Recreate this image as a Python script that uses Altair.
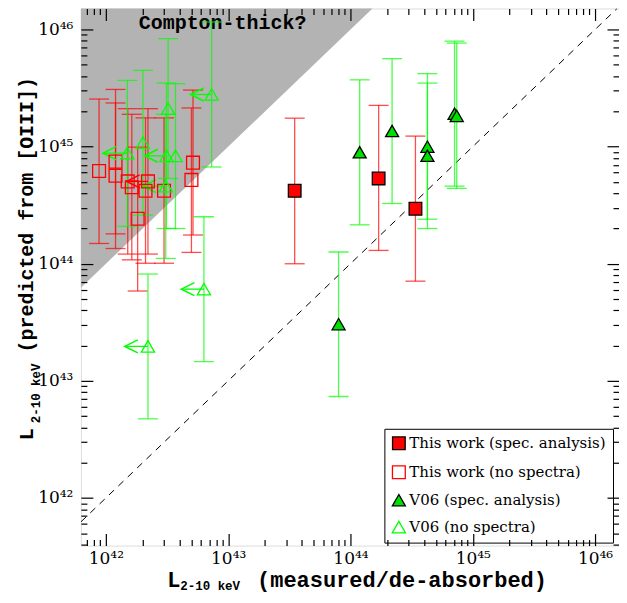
import altair as alt
import pandas as pd

# ---------------- data (erg/s) ----------------
# This work, spectral analysis (filled red squares)
tw_spec_x = [3.5e43, 1.7e44, 3.4e44]
tw_spec_y = [4.2e44, 5.35e44, 2.95e44]
tw_spec_lo = [1.0e44, 1.3e44, 7.1e43]
tw_spec_hi = [1.75e45, 2.25e45, 1.23e45]

# This work, no spectra (open red squares)
tw_nos_x = [8.8e41, 1.2e42, 1.2e42, 1.51e42, 1.63e42, 2.21e42, 2.11e42, 2.99e42, 1.82e42, 5.16e42, 5.01e42]
tw_nos_y = [6.2e44, 7.45e44, 5.65e44, 5.05e44, 4.5e44, 5.05e44, 4.2e44, 4.2e44, 2.42e44, 7.3e44, 5.2e44]
tw_nos_lo = [1.49e44, 1.8e44, 1.35e44, 1.21e44, 1.08e44, 1.21e44, 1.01e44, 1.01e44, 5.85e43, 1.76e44, 1.25e44]
tw_nos_hi = [2.55e45, 3.08e45, 2.36e45, 2.11e45, 1.89e45, 2.11e45, 1.76e45, 1.76e45, 9.9e44, 3.04e45, 2.14e45]
# upper limits in x (arrow tips)
tw_lim_x = [2.21e42]
tw_lim_y = [5.05e44]
tw_lim_tip = [1.48e42]

# V06, spectral analysis (filled green triangles)
v06_spec_x = [1.19e44, 2.19e44, 4.26e44, 4.26e44, 7.1e44, 7.4e44, 8.0e43]
v06_spec_y = [8.95e44, 1.36e45, 1.0e45, 8.35e44, 1.91e45, 1.83e45, 3.05e43]
v06_spec_lo = [2.15e44, 3.27e44, 2.4e44, 2.0e44, 4.6e44, 4.4e44, 7.35e42]
v06_spec_hi = [3.72e45, 5.64e45, 4.2e45, 3.49e45, 7.96e45, 7.66e45, 1.26e44]

# V06, no spectra (open green triangles)
v06_nos_x = [7.33e42, 3.23e42, 2.01e42, 1.50e42, 3.13e42, 3.71e42, 3.09e42, 6.34e42, 2.21e42]
v06_nos_y = [2.79e45, 2.11e45, 1.08e45, 8.8e44, 8.35e44, 8.35e44, 4.6e44, 6.07e43, 1.97e43]
v06_nos_lo = [6.7e44, 5.35e44, 2.6e44, 2.09e44, 2.0e44, 2.0e44, 1.11e44, 1.46e43, 4.74e42]
v06_nos_hi = [1.16e46, 8.36e45, 4.48e45, 3.68e45, 3.49e45, 3.45e45, 1.89e45, 2.52e44, 8.17e43]
# upper limits in x (arrow tips)
v06_lim_x = [7.33e42, 1.50e42, 3.13e42, 3.09e42, 6.34e42, 2.21e42]
v06_lim_y = [2.79e45, 8.8e44, 8.35e44, 4.6e44, 6.07e43, 1.97e43]
v06_lim_tip = [4.94e42, 9.5e41, 2.08e42, 2.01e42, 4.15e42, 1.43e42]

series_names = ["This work (spec. analysis)", "This work (no spectra)",
                "V06 (spec. analysis)", "V06 (no spectra)"]

major_ticks = [1e42, 1e43, 1e44, 1e45, 1e46]
major_labels = ["10⁴²", "10⁴³", "10⁴⁴", "10⁴⁵", "10⁴⁶"]

COMPTON_FACTOR = 100.0
XMIN, XMAX = 6.25e41, 1.57e46
YMIN, YMAX = 3.92e41, 1.513e46
W, H = 539, 538

RED = "#ff0000"
GREEN = "#00ff00"
GREEN_FILL = "#00e000"
SERIF = "DejaVu Serif"
MONO = "Liberation Mono"

# axis titles: "L" + subscript "2-10 keV" + rest
T_L = "L"
T_SUB = "2-10 keV"
XTITLE_MAIN = "(measured/de-absorbed)"
YTITLE_MAIN = "(predicted from [OIII])"

# ---------------- scales & axes ----------------
xs = alt.Scale(type="log", domain=[XMIN, XMAX], nice=False, zero=False)
ys = alt.Scale(type="log", domain=[YMIN, YMAX], nice=False, zero=False)

minor = [k * 10.0 ** n for n in range(41, 47) for k in range(2, 10)]
xticks = [v for v in major_ticks + minor if XMIN <= v <= XMAX]
yticks = [v for v in major_ticks + minor if YMIN <= v <= YMAX]

lab_expr = " : ".join(f"datum.value == {repr(v)} ? '{l}'" for v, l in zip(major_ticks, major_labels)) + " : ''"
major_arr = "[" + ",".join(repr(v) for v in major_ticks) + "]"
tick_size = {"condition": {"test": f"indexof({major_arr}, datum.value) >= 0", "value": 12}, "value": 6}


def tick_axis(orient, offset, values, **title):
    return alt.Axis(orient=orient, offset=offset, values=values, labels=False, domain=False,
                    grid=False, ticks=True, tickSize=tick_size, tickColor="black",
                    tickWidth=1.2, zindex=1, titleFont=MONO, titleFontWeight="bold",
                    titleColor="black", titleAlign="left", titleBaseline="alphabetic",
                    **title)


ax_x_lab = alt.Axis(orient="bottom", values=major_ticks, labelExpr=lab_expr, ticks=False,
                    domain=False, grid=False, labelFont=SERIF, labelFontSize=17,
                    labelPadding=5, labelColor="black", labelFlush=False,
                    title=XTITLE_MAIN, titleFont=MONO, titleFontSize=22, titleFontWeight="bold",
                    titleColor="black", titleX=176, titleY=41, titleBaseline="alphabetic",
                    titleAlign="left")
ax_y_lab = alt.Axis(orient="left", values=major_ticks, labelExpr=lab_expr, ticks=False,
                    domain=False, grid=False, labelFont=SERIF, labelFontSize=17,
                    labelPadding=8, labelColor="black", labelFlush=False,
                    title=YTITLE_MAIN, titleFont=MONO, titleFontSize=20, titleFontWeight="bold",
                    titleColor="black", titleX=-48, titleY=344, titleAngle=270,
                    titleBaseline="alphabetic", titleAlign="left")

# ---------------- layers ----------------
# Compton-thick region: L_pred > 100 L_meas
shade_df = pd.DataFrame({"x": [XMIN, YMAX / COMPTON_FACTOR],
                         "y": [XMIN * COMPTON_FACTOR, YMAX],
                         "y2": [YMAX, YMAX]})
shade = alt.Chart(shade_df).mark_area(color="#b3b3b3", opacity=1).encode(
    x=alt.X("x:Q", scale=xs, axis=ax_x_lab),
    y=alt.Y("y:Q", scale=ys, axis=ax_y_lab),
    y2="y2:Q")

one2one_df = pd.DataFrame({"x": [XMIN, YMAX], "y": [XMIN, YMAX]})
one2one = alt.Chart(one2one_df).mark_line(color="black", strokeDash=[7, 6], strokeWidth=1,
                                          clip=True).encode(
    # top-oriented axis moved to the bottom edge: inward ticks + "L" of the x title
    x=alt.X("x:Q", scale=xs, axis=tick_axis("top", -H, xticks, title=T_L, titleFontSize=22,
                                            titleX=86, titleY=41)),
    # right-oriented axis moved to the left edge: inward ticks + "L" of the y title
    y=alt.Y("y:Q", scale=ys, axis=tick_axis("right", -W, yticks, title=T_L, titleFontSize=20,
                                            titleX=-48, titleY=432, titleAngle=270)))

label_df = pd.DataFrame({"x": [9.0e42], "y": [1.128e46], "t": ["Compton-thick?"]})
label = alt.Chart(label_df).mark_text(font=MONO, fontSize=20, fontWeight="bold",
                                      color="black", align="center", baseline="middle").encode(
    # bottom-oriented axis moved to the top edge: inward ticks + subscript of x title
    x=alt.X("x:Q", scale=xs, axis=tick_axis("bottom", -H, xticks, title=T_SUB,
                                            titleFontSize=12.5, titleX=99, titleY=582)),
    # left-oriented axis moved to the right edge: inward ticks + subscript of y title
    y=alt.Y("y:Q", scale=ys, axis=tick_axis("left", -W, yticks, title=T_SUB,
                                            titleFontSize=12.5, titleX=-41 - W, titleY=415,
                                            titleAngle=270)),
    text="t:N")


def err_layers(x, y, lo, hi, color):
    df = pd.DataFrame({"x": x, "y": y, "lo": lo, "hi": hi})
    base = alt.Chart(df)
    rule = base.mark_rule(color=color, strokeWidth=1.3, opacity=0.7).encode(
        x=alt.X("x:Q", scale=xs, axis=None),
        y=alt.Y("lo:Q", scale=ys, axis=None), y2="hi:Q")
    cap_lo = base.mark_tick(orient="horizontal", color=color, size=20, thickness=1.3,
                            opacity=0.7).encode(
        x=alt.X("x:Q", scale=xs, axis=None), y=alt.Y("lo:Q", scale=ys, axis=None))
    cap_hi = base.mark_tick(orient="horizontal", color=color, size=20, thickness=1.3,
                            opacity=0.7).encode(
        x=alt.X("x:Q", scale=xs, axis=None), y=alt.Y("hi:Q", scale=ys, axis=None))
    return [rule, cap_lo, cap_hi]


ARROW = "M2,-1L0,0L2,1"


def arrow_layers(x, y, tip, color):
    df = pd.DataFrame({"x": x, "y": y, "tip": tip})
    base = alt.Chart(df)
    shaft = base.mark_rule(color=color, strokeWidth=1.3).encode(
        x=alt.X("x:Q", scale=xs, axis=None), x2="tip:Q",
        y=alt.Y("y:Q", scale=ys, axis=None))
    head = base.mark_point(shape=ARROW, filled=False, color=color, strokeWidth=1.6,
                           size=169, opacity=1).encode(
        x=alt.X("tip:Q", scale=xs, axis=None), y=alt.Y("y:Q", scale=ys, axis=None))
    return [shaft, head]


layers = [shade, one2one, label]
layers += err_layers(tw_nos_x, tw_nos_y, tw_nos_lo, tw_nos_hi, RED)
layers += err_layers(v06_nos_x, v06_nos_y, v06_nos_lo, v06_nos_hi, GREEN)
layers += err_layers(tw_spec_x, tw_spec_y, tw_spec_lo, tw_spec_hi, RED)
layers += err_layers(v06_spec_x, v06_spec_y, v06_spec_lo, v06_spec_hi, GREEN)
layers += arrow_layers(tw_lim_x, tw_lim_y, tw_lim_tip, RED)
layers += arrow_layers(v06_lim_x, v06_lim_y, v06_lim_tip, GREEN)

pts = pd.concat([
    pd.DataFrame({"x": tw_nos_x, "y": tw_nos_y, "series": series_names[1]}),
    pd.DataFrame({"x": v06_nos_x, "y": v06_nos_y, "series": series_names[3]}),
    pd.DataFrame({"x": tw_spec_x, "y": tw_spec_y, "series": series_names[0]}),
    pd.DataFrame({"x": v06_spec_x, "y": v06_spec_y, "series": series_names[2]}),
], ignore_index=True)
pts["order"] = range(len(pts))

leg = alt.Legend(title=None, orient="none", legendX=304, legendY=421, fillColor="white",
                 strokeColor="black", padding=7, rowPadding=10, labelFont=SERIF,
                 labelFontSize=15, labelColor="black", labelOffset=3, labelLimit=0,
                 symbolStrokeWidth=1.3)
points = alt.Chart(pts).mark_point(filled=True, opacity=1, strokeWidth=1.3).encode(
    x=alt.X("x:Q", scale=xs, axis=None),
    y=alt.Y("y:Q", scale=ys, axis=None),
    shape=alt.Shape("series:N", scale=alt.Scale(domain=series_names,
                    range=["square", "square", "triangle-up", "triangle-up"]), legend=leg),
    fill=alt.Fill("series:N", scale=alt.Scale(domain=series_names,
                  range=[RED, "transparent", GREEN_FILL, "transparent"]), legend=leg),
    stroke=alt.Stroke("series:N", scale=alt.Scale(domain=series_names,
                      range=["black", RED, "black", GREEN]), legend=leg),
    size=alt.Size("series:N", scale=alt.Scale(domain=series_names,
                  range=[160, 175, 320, 320]), legend=leg),
    order="order:Q",
)
layers.append(points)

chart = alt.layer(*layers).resolve_axis(x="independent", y="independent").properties(
    width=W, height=H,
    autosize=alt.AutoSizeParams(type="none"),
    padding={"left": 73, "top": 0, "right": 0, "bottom": 49},
).configure_view(stroke="black", strokeWidth=2).configure(background="white")

chart.save("out.html", embed_options={"renderer": "svg", "actions": False})
